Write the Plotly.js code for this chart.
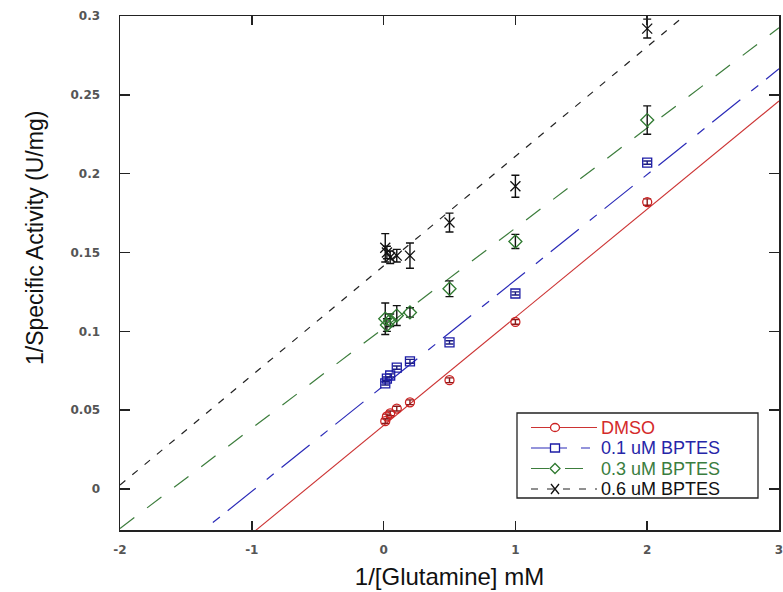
<!DOCTYPE html>
<html><head><meta charset="utf-8">
<script src="https://cdn.plot.ly/plotly-3.0.1.min.js"></script>
<style>html,body{margin:0;padding:0;background:#fff}#chart{width:783px;height:592px}</style>
</head><body><div id="chart"></div>
<script>
// ---- data ----
const invGlutamine = [0.0125, 0.025, 0.05, 0.1, 0.2, 0.5, 1, 2];
const dmso      = [0.043, 0.046, 0.048, 0.051, 0.055, 0.069, 0.106, 0.182];
const dmsoErr   = [0.0015, 0.0015, 0.0015, 0.0015, 0.0015, 0.0015, 0.0015, 0.002];
const bptes01    = [0.067, 0.070, 0.072, 0.077, 0.081, 0.093, 0.124, 0.207];
const bptes01Err = [0.001, 0.001, 0.001, 0.001, 0.0012, 0.001, 0.001, 0.001];
const bptes03    = [0.108, 0.104, 0.107, 0.110, 0.112, 0.127, 0.157, 0.234];
const bptes03Err = [0.010, 0.004, 0.004, 0.0063, 0.003, 0.005, 0.0045, 0.009];
const bptes06    = [0.153, 0.150, 0.147, 0.148, 0.148, 0.169, 0.192, 0.292];
const bptes06Err = [0.009, 0.004, 0.004, 0.004, 0.008, 0.006, 0.007, 0.006];
const seriesNames = ['DMSO', '0.1 uM BPTES', '0.3 uM BPTES', '0.6 uM BPTES'];
// linear fits (Lineweaver-Burk)
const fitIntercept = [0.0403, 0.0655, 0.102, 0.1415];
const fitSlope     = [0.0686, 0.067, 0.0635, 0.0695];
const fitXRange = [-2, 3];
const xTickVals = [-2, -1, 0, 1, 2, 3];
const xTickText = ['-2', '-1', '0', '1', '2', '3'];
const yTickVals = [0, 0.05, 0.1, 0.15, 0.2, 0.25, 0.3];
const yTickText = ['0', '0.05', '0.1', '0.15', '0.2', '0.25', '0.3'];

const values = [dmso, bptes01, bptes03, bptes06];
const errors = [dmsoErr, bptes01Err, bptes03Err, bptes06Err];

// ---- styles ----
const styles = [
  {mk:'#cc2222', line:'#cc3333', err:'#8a1a1a', text:'#d42a2a', symbol:'circle-open', size:9, dash:'solid', lw:1.1},
  {mk:'#1c1ca6', line:'#2b2bb8', err:'#1c1c80', text:'#2626a8', symbol:'square-open', size:9, dash:'36px,14px,9px,10px', lw:1.2},
  {mk:'#2f7a30', line:'#3c7d3c', err:'#111111', text:'#3a7d40', symbol:'diamond-open', size:10, dash:'18px,16px', lw:1.2},
  {mk:'#111111', line:'#222222', err:'#111111', text:'#111111', symbol:'x-thin-open', size:10, dash:'7px,9px', lw:1.2}
];

const traces = [];
values.forEach((v, i) => {
  const s = styles[i];
  traces.push({
    type:'scatter', mode:'lines', name: seriesNames[i] + ' fit', showlegend:false, hoverinfo:'skip',
    x: fitXRange, y: fitXRange.map(x => fitIntercept[i] + fitSlope[i] * x),
    line:{color:s.line, width:s.lw, dash:s.dash}
  });
});
values.forEach((v, i) => {
  const s = styles[i];
  traces.push({
    type:'scatter', mode:'markers', name: seriesNames[i], showlegend:false,
    x: invGlutamine, y: v,
    error_y:{type:'data', array: errors[i], visible:true, color:s.err, thickness:1.4, width:4},
    marker:{symbol:s.symbol, size:s.size, color:s.mk, line:{color:s.mk, width:1.3}},
    cliponaxis:false
  });
});

// ---- hand-made legend (paper coords from pixel positions) ----
const L = 120, R = 4, T = 16, B = 62, W = 783, H = 592;
const PX = px => (px - L) / (W - L - R);
const PY = py => (H - B - py) / (H - T - B);
const shapes = [];
const annotations = [];
shapes.push({type:'rect', xref:'paper', yref:'paper', x0:PX(517), x1:PX(758), y0:PY(498), y1:PY(413),
  line:{color:'#222', width:1.3}, fillcolor:'#fff'});
const rowY = [427.5, 448, 468.5, 489];
const markerPaths = {
  'diamond-open': 'M0,-5L5,0L0,5L-5,0Z',
  'x-thin-open': 'M-4,-5L4,5M-4,5L4,-5'
};
seriesNames.forEach((n, i) => {
  const s = styles[i];
  const y = PY(rowY[i]);
  shapes.push({type:'line', xref:'paper', yref:'paper', x0:PX(531), x1:PX(597), y0:y, y1:y,
    line:{color:s.line, width:s.lw, dash:s.dash}});
  const base = {xref:'paper', yref:'paper', xsizemode:'pixel', ysizemode:'pixel', xanchor:PX(555), yanchor:y,
    line:{color:s.mk, width:1.3}};
  if (s.symbol === 'circle-open') shapes.push(Object.assign({type:'circle', x0:-4.5, x1:4.5, y0:-4, y1:4, fillcolor:'#fff'}, base));
  else if (s.symbol === 'square-open') shapes.push(Object.assign({type:'rect', x0:-4.5, x1:4.5, y0:-4, y1:4, fillcolor:'#fff'}, base));
  else if (s.symbol === 'diamond-open') shapes.push(Object.assign({type:'path', path: markerPaths[s.symbol], fillcolor:'#fff'}, base));
  else shapes.push(Object.assign({type:'path', path: markerPaths[s.symbol]}, base));
  annotations.push({xref:'paper', yref:'paper', x:PX(600), y:y, xanchor:'left', yanchor:'middle', showarrow:false,
    borderpad:0,
    text:n, font:{family:'Liberation Sans, Arial, sans-serif', size:18, color:s.text}});
});
// y axis title (drawn off-centre as in the reference)
annotations.push({xref:'paper', yref:'paper', x:PX(35), y:PY(238), xanchor:'center', yanchor:'middle', showarrow:false,
  textangle:-90, text:'1/Specific Activity (U/mg)', font:{family:'Liberation Sans, Arial, sans-serif', size:23, color:'#111'}});

const tickFont = {family:'DejaVu Sans, sans-serif', size:12, color:'#555', weight:'bold'};
const layout = {
  width:W, height:H,
  margin:{l:L, r:R, t:T, b:B, pad:0},
  paper_bgcolor:'#fff', plot_bgcolor:'#fff',
  showlegend:false,
  xaxis:{range:[-2, 3], tickmode:'array', tickvals:xTickVals, ticktext:xTickText,
    ticks:'inside', ticklen:9, tickwidth:1.5, tickcolor:'#222',
    showline:true, linecolor:'#222', linewidth:1.5, mirror:'ticks',
    showgrid:false, zeroline:false, tickfont:tickFont, ticklabelstandoff:8, ticklabeloverflow:'allow',
    title:{text:'1/[Glutamine] mM', font:{family:'Liberation Sans, Arial, sans-serif', size:24, color:'#111'}, standoff:12}},
  yaxis:{range:[-0.026, 0.3], tickmode:'array', tickvals:yTickVals, ticktext:yTickText,
    ticks:'inside', ticklen:10, tickwidth:1.5, tickcolor:'#222',
    showline:true, linecolor:'#222', linewidth:1.5, mirror:'ticks',
    showgrid:false, zeroline:false, tickfont:tickFont, ticklabelstandoff:16},
  shapes:shapes, annotations:annotations
};
Plotly.newPlot('chart', traces, layout, {displayModeBar:false, staticPlot:true});
</script>
</body></html>
